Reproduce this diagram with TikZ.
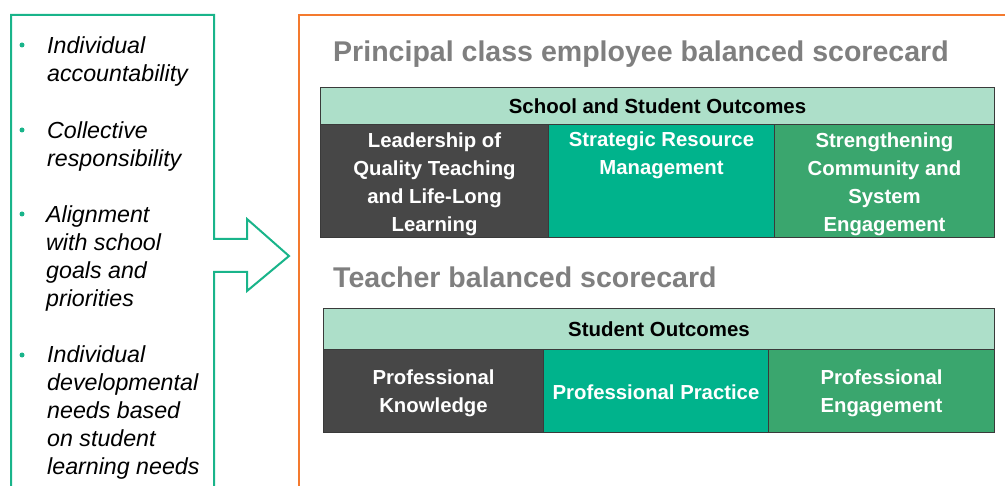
\documentclass[tikz,border=0pt]{standalone}
\usepackage{fontspec}
\setmainfont{Liberation Sans}
\definecolor{mint}{HTML}{ADDFC9}
\definecolor{darkcell}{HTML}{474747}
\definecolor{tealcell}{HTML}{00B38C}
\definecolor{greencell}{HTML}{3AA66E}
\definecolor{outgreen}{HTML}{19B48A}
\definecolor{outorange}{HTML}{F47A2E}
\definecolor{titlegrey}{HTML}{7F7F7F}
\definecolor{rule}{HTML}{3A3A3A}
\begin{document}
\begin{tikzpicture}[x=1bp,y=-1bp,
    cell/.style={draw=rule,line width=1bp,inner sep=0pt,anchor=north west},
    celltext/.style={text=white,font=\fontsize{20.4}{28.2}\selectfont\bfseries,align=center,inner sep=0pt},
    headtext/.style={font=\fontsize{20.5}{24}\selectfont\bfseries,inner sep=0pt},
    title/.style={text=titlegrey,font=\fontsize{28.65}{34}\selectfont\bfseries,anchor=base west,inner sep=0pt},
    item/.style={font=\fontsize{23.3}{28.1}\selectfont\itshape,align=left,anchor=base west,inner sep=0pt},
    dot/.style={circle,fill=outgreen,inner sep=0pt,minimum size=5bp}]
  \useasboundingbox (0,0) rectangle (1005,486);
  % frames
  \draw[outgreen,line width=2bp] (11,500) -- (11,15) -- (214,15) -- (214,239) -- (247,239) -- (247,219)
    -- (289,256) -- (247,291) -- (247,272) -- (214,272) -- (214,500);
  \draw[outorange,line width=2bp] (299,500) -- (299,15) -- (1020,15);
  % bullet list (items sit on the baseline of their last line)
  \node[dot] (bul1) at (22,45) {};
  \node[item] (item1) at (47,81.1) {Individual\\accountability};
  \node[dot] (bul2) at (22,130) {};
  \node[item] (item2) at (47,166.1) {Collective\\responsibility};
  \node[dot] (bul3) at (22,214) {};
  \node[item] (item3) at (46,306.3) {Alignment\\with school\\goals and\\priorities};
  \node[dot] (bul4) at (22,355) {};
  \node[item] (item4) at (47,474.4) {Individual\\developmental\\needs based\\on student\\learning needs};
  % principal scorecard
  \node[title] (title1) at (333,62) {Principal class employee balanced scorecard};
  \node[cell,fill=mint,minimum width=674bp,minimum height=37bp] (head1) at (320,87) {};
  \node[headtext] (htext1) at (head1.center) {School and Student Outcomes};
  \node[cell,fill=darkcell,minimum width=228bp,minimum height=113bp] (c11) at (320,124) {};
  \node[cell,fill=tealcell,minimum width=226bp,minimum height=113bp] (c12) at (548,124) {};
  \node[cell,fill=greencell,minimum width=220bp,minimum height=113bp] (c13) at (774,124) {};
  \node[celltext] (t11) at ([yshift=-3.5bp]c11.center) {Leadership of\\Quality Teaching\\and Life-Long\\Learning};
  \node[celltext,anchor=north] (t12) at ([yshift=-7.5bp]c12.north) {Strategic Resource\\Management};
  \node[celltext] (t13) at ([yshift=-3.5bp]c13.center) {Strengthening\\Community and\\System\\Engagement};
  % teacher scorecard
  \node[title] (title2) at (333,288) {Teacher balanced scorecard};
  \node[cell,fill=mint,minimum width=671bp,minimum height=41bp] (head2) at (323,308) {};
  \node[headtext] (htext2) at (head2.center) {Student Outcomes};
  \node[cell,fill=darkcell,minimum width=220bp,minimum height=83bp] (c21) at (323,349) {};
  \node[cell,fill=tealcell,minimum width=225bp,minimum height=83bp] (c22) at (543,349) {};
  \node[cell,fill=greencell,minimum width=226bp,minimum height=83bp] (c23) at (768,349) {};
  \node[celltext] (t21) at ([yshift=-2.5bp]c21.center) {Professional\\Knowledge};
  \node[celltext] (t22) at ([yshift=-1bp]c22.center) {Professional Practice};
  \node[celltext] (t23) at ([yshift=-2.5bp]c23.center) {Professional\\Engagement};
\end{tikzpicture}
\end{document}
